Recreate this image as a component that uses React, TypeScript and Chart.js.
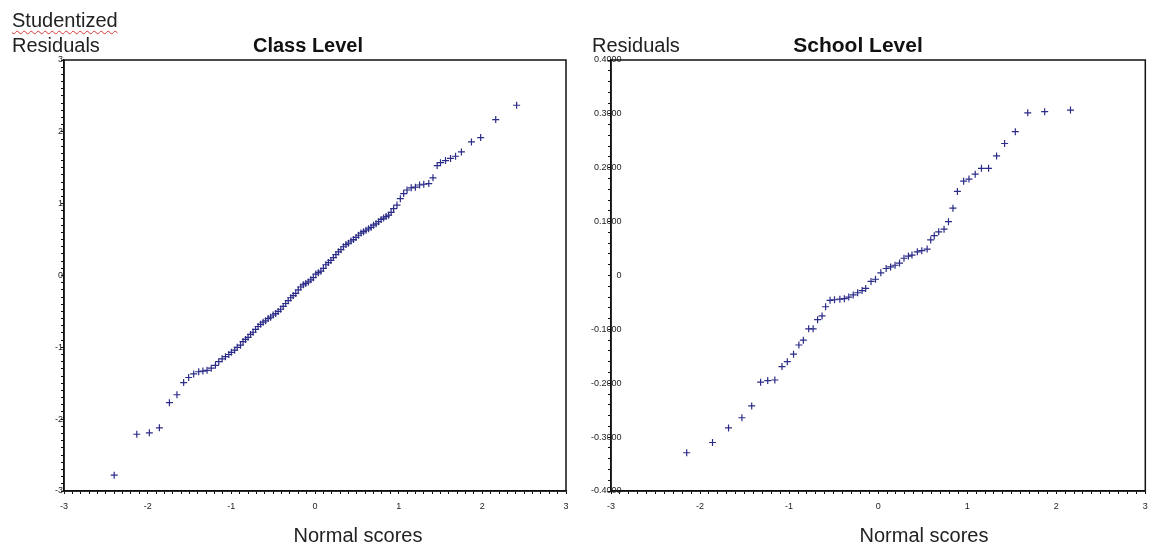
import React, { useEffect, useRef } from 'react';
import { Chart, registerables } from 'chart.js';

Chart.register(...registerables);

// ---------- Class level (studentized residuals vs normal scores) ----------
const classNormalScores = [
  -2.40, -2.13, -1.98, -1.86, -1.74, -1.65, -1.57, -1.51, -1.45, -1.39,
  -1.34, -1.29, -1.24, -1.19, -1.15, -1.11, -1.07, -1.03, -1.00, -0.96,
  -0.93, -0.89, -0.86, -0.83, -0.80, -0.77, -0.74, -0.71, -0.68, -0.65,
  -0.62, -0.59, -0.56, -0.53, -0.50, -0.47, -0.44, -0.41, -0.38, -0.35,
  -0.32, -0.29, -0.26, -0.23, -0.20, -0.17, -0.14, -0.11, -0.08, -0.05,
  -0.02, 0.01, 0.04, 0.07, 0.10, 0.13, 0.16, 0.19, 0.22, 0.25,
  0.28, 0.31, 0.34, 0.37, 0.40, 0.43, 0.46, 0.49, 0.52, 0.55,
  0.58, 0.61, 0.64, 0.67, 0.70, 0.73, 0.76, 0.79, 0.82, 0.85,
  0.88, 0.91, 0.94, 0.98, 1.02, 1.06, 1.10, 1.15, 1.20, 1.25,
  1.30, 1.36, 1.41, 1.46, 1.50, 1.56, 1.62, 1.68, 1.75, 1.87,
  1.98, 2.16, 2.41,
];
const classResiduals = [
  -2.78, -2.21, -2.19, -2.12, -1.77, -1.66, -1.49, -1.42, -1.37, -1.34,
  -1.33, -1.32, -1.29, -1.25, -1.20, -1.16, -1.13, -1.10, -1.07, -1.04,
  -1.00, -0.97, -0.92, -0.89, -0.86, -0.82, -0.79, -0.75, -0.71, -0.68,
  -0.65, -0.63, -0.60, -0.58, -0.55, -0.53, -0.50, -0.47, -0.43, -0.39,
  -0.35, -0.31, -0.28, -0.25, -0.20, -0.16, -0.13, -0.11, -0.09, -0.06,
  -0.03, 0.02, 0.04, 0.06, 0.10, 0.15, 0.18, 0.21, 0.25, 0.29,
  0.33, 0.36, 0.40, 0.43, 0.45, 0.48, 0.50, 0.53, 0.56, 0.59,
  0.61, 0.63, 0.65, 0.67, 0.70, 0.72, 0.75, 0.78, 0.80, 0.82,
  0.84, 0.88, 0.93, 0.98, 1.07, 1.14, 1.19, 1.22, 1.23, 1.26,
  1.27, 1.28, 1.36, 1.53, 1.57, 1.60, 1.63, 1.66, 1.72, 1.86,
  1.92, 2.17, 2.37,
];

// ---------- School level (residuals vs normal scores) ----------
const schoolNormalScores = [
  -2.15, -1.86, -1.68, -1.53, -1.42, -1.32, -1.24, -1.16, -1.08, -1.02,
  -0.95, -0.89, -0.84, -0.78, -0.73, -0.68, -0.63, -0.59, -0.54, -0.49,
  -0.43, -0.38, -0.33, -0.28, -0.23, -0.18, -0.14, -0.08, -0.03, 0.03,
  0.09, 0.14, 0.19, 0.24, 0.29, 0.34, 0.38, 0.44, 0.49, 0.55,
  0.59, 0.63, 0.68, 0.74, 0.79, 0.84, 0.89, 0.96, 1.02, 1.09,
  1.16, 1.24, 1.33, 1.42, 1.54, 1.68, 1.87, 2.16,
];
const schoolResiduals = [
  -0.329, -0.310, -0.283, -0.264, -0.242, -0.198, -0.195, -0.194, -0.169, -0.160,
  -0.146, -0.129, -0.120, -0.099, -0.099, -0.082, -0.075, -0.058, -0.046, -0.045,
  -0.044, -0.043, -0.040, -0.036, -0.032, -0.028, -0.024, -0.011, -0.007, 0.005,
  0.013, 0.016, 0.019, 0.023, 0.032, 0.036, 0.038, 0.044, 0.046, 0.049,
  0.066, 0.074, 0.081, 0.086, 0.100, 0.125, 0.156, 0.175, 0.179, 0.188,
  0.199, 0.199, 0.222, 0.245, 0.267, 0.302, 0.304, 0.307,
];

// ---------- Tick labels ----------
const xTickLabels = ['-3', '-2', '-1', '0', '1', '2', '3'];
const classYTickLabels = ['-3', '-2', '-1', '0', '1', '2', '3'];
const schoolYTickLabels = ['-0.4000', '-0.3000', '-0.2000', '-0.1000', '0', '0.1000', '0.2000', '0.3000', '0.4000'];

const POINT_COLOR = '#2b2b88';
const FONT = "'Liberation Sans', Arial, sans-serif";

const framePlugin = {
  id: 'frameBox',
  afterDraw(chart: any) {
    const { ctx, chartArea } = chart;
    const { left, top, right, bottom } = chartArea;
    ctx.save();
    ctx.strokeStyle = '#111';
    ctx.lineWidth = 1.5;
    ctx.strokeRect(left, top, right - left, bottom - top);
    ctx.restore();
  },
};

function labelAt(labels: string[], value: number, scale: number, offset: number) {
  const scaled = value * scale;
  const k = Math.round(scaled);
  if (Math.abs(scaled - k) < 1e-6) {
    const lbl = labels[k + offset];
    return lbl === undefined ? '' : lbl;
  }
  return '';
}

type PanelProps = {
  xs: number[];
  ys: number[];
  yMin: number;
  yMax: number;
  yStep: number;
  yLabelFn: (v: number) => string;
  yAxisWidth: number;
  rightPad: number;
  yLabelPadding: number;
  yMirror: boolean;
};

function Panel(props: PanelProps) {
  const ref = useRef<HTMLCanvasElement | null>(null);
  useEffect(() => {
    if (!ref.current) return;
    const tickFont = { family: FONT, size: 9 };
    const chart = new Chart(ref.current, {
      type: 'scatter',
      data: {
        datasets: [
          {
            data: props.xs.map((x, i) => ({ x, y: props.ys[i] })),
            pointStyle: 'cross',
            pointRadius: 3.5,
            pointHoverRadius: 3.5,
            borderColor: POINT_COLOR,
            backgroundColor: POINT_COLOR,
            borderWidth: 1.2,
          },
        ],
      },
      options: {
        animation: false,
        responsive: false,
        maintainAspectRatio: false,
        events: [],
        layout: { padding: { top: 60, right: props.rightPad, left: 0, bottom: 0 } },
        plugins: { legend: { display: false }, tooltip: { enabled: false }, title: { display: false } },
        scales: {
          x: {
            type: 'linear',
            position: 'bottom',
            min: -3,
            max: 3,
            ticks: {
              stepSize: 0.1,
              autoSkip: false,
              maxRotation: 0,
              minRotation: 0,
              padding: 7,
              color: '#222',
              font: tickFont,
              callback: (v: any) => labelAt(xTickLabels, Number(v), 1, 3),
            },
            grid: { drawOnChartArea: false, drawTicks: true, tickLength: 3, tickColor: '#111', tickWidth: 1 },
            border: { display: true, color: '#111', width: 1.5 },
            afterFit: (s: any) => {
              s.height = 55;
              s.paddingLeft = 0;
              s.paddingRight = 0;
            },
          },
          y: {
            type: 'linear',
            position: 'left',
            min: props.yMin,
            max: props.yMax,
            ticks: {
              stepSize: props.yStep,
              autoSkip: false,
              mirror: props.yMirror,
              crossAlign: props.yMirror ? 'far' : 'near',
              padding: props.yLabelPadding,
              color: '#222',
              font: tickFont,
              callback: (v: any) => props.yLabelFn(Number(v)),
            },
            grid: { drawOnChartArea: false, drawTicks: true, tickLength: 3, tickColor: '#111', tickWidth: 1 },
            border: { display: true, color: '#111', width: 1.5 },
            afterFit: (s: any) => {
              s.width = props.yAxisWidth;
              s.paddingTop = 0;
              s.paddingBottom = 0;
            },
          },
        },
      } as any,
      plugins: [framePlugin],
    });
    return () => chart.destroy();
  }, []);
  return <canvas ref={ref} width={575} height={546} style={{ display: 'block', width: 575, height: 546 }} />;
}

const textBase: React.CSSProperties = {
  position: 'absolute',
  fontFamily: FONT,
  fontSize: 20,
  lineHeight: '20px',
  color: '#222',
  whiteSpace: 'nowrap',
};

export default function App() {
  return (
    <div style={{ position: 'absolute', left: 0, top: 0, width: 1150, height: 546, background: '#fff', overflow: 'hidden' }}>
      <div style={{ position: 'absolute', left: 0, top: 0 }}>
        <Panel
          xs={classNormalScores}
          ys={classResiduals}
          yMin={-3}
          yMax={3}
          yStep={0.1}
          yLabelFn={(v) => labelAt(classYTickLabels, v, 1, 3)}
          yAxisWidth={64}
          rightPad={9}
          yLabelPadding={-2}
          yMirror={false}
        />
      </div>
      <div style={{ position: 'absolute', left: 575, top: 0 }}>
        <Panel
          xs={schoolNormalScores}
          ys={schoolResiduals}
          yMin={-0.4}
          yMax={0.4}
          yStep={0.02}
          yLabelFn={(v) => labelAt(schoolYTickLabels, v, 10, 4)}
          yAxisWidth={36}
          rightPad={3}
          yLabelPadding={-20}
          yMirror={true}
        />
      </div>

      <div style={{ ...textBase, left: 12, top: 10, textDecoration: 'underline wavy #d33', textDecorationThickness: 1, textUnderlineOffset: 3 }}>Studentized</div>
      <div style={{ ...textBase, left: 12, top: 35 }}>Residuals</div>
      <div style={{ ...textBase, left: 208, width: 200, top: 35, textAlign: 'center', fontWeight: 'bold', color: '#111' }}>Class Level</div>
      <div style={{ ...textBase, left: 258, width: 200, top: 525, textAlign: 'center' }}>Normal scores</div>

      <div style={{ ...textBase, left: 592, top: 35 }}>Residuals</div>
      <div style={{ ...textBase, left: 758, width: 200, top: 34, fontSize: 21, lineHeight: '21px', textAlign: 'center', fontWeight: 'bold', color: '#111' }}>School Level</div>
      <div style={{ ...textBase, left: 824, width: 200, top: 525, textAlign: 'center' }}>Normal scores</div>
    </div>
  );
}
